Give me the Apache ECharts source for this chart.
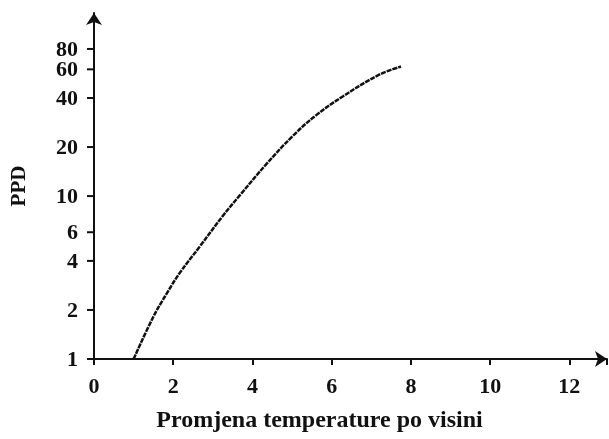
<!DOCTYPE html>
<html>
<head>
<meta charset="utf-8">
<script src="https://cdn.jsdelivr.net/npm/echarts@6/dist/echarts.min.js"></script>
<style>html,body{margin:0;padding:0;background:#fff;}#c{width:609px;height:439px;}</style>
</head>
<body>
<div id="c"></div>
<script>
var xValues = [1.0, 1.5, 1.83, 2.17, 2.67, 3.26, 3.68, 4.35, 5.02, 5.61, 6.28, 7.2, 7.75];
var ppdValues = [1.0, 1.82, 2.51, 3.39, 4.9, 7.6, 10.1, 15.7, 23.4, 31.4, 40.9, 55.6, 62.4];
var xTicks = [0, 2, 4, 6, 8, 10, 12];
var yTicks = [1, 2, 4, 6, 10, 20, 40, 60, 80];
var xTitle = 'Promjena temperature po visini';
var yTitle = 'PPD';

var chart = echarts.init(document.getElementById('c'));
var font = '"Liberation Serif", "Times New Roman", serif';
var pts = xValues.map(function (x, i) { return [x, ppdValues[i]]; });
chart.setOption({
  animation: false,
  grid: { left: 94, right: 2, top: 13, bottom: 80, containLabel: false },
  xAxis: {
    type: 'value', min: 0, max: 12.95, interval: 2,
    name: xTitle, nameLocation: 'middle', nameGap: 50,
    nameTextStyle: { fontFamily: font, fontWeight: 'bold', fontSize: 24, color: '#111', padding: [0, 62, 0, 0] },
    axisLine: { show: true, symbol: ['none', 'arrow'], symbolSize: [12, 12], lineStyle: { color: '#111', width: 2 } },
    axisTick: { show: true, inside: false, length: 6, lineStyle: { color: '#111', width: 2 } },
    axisLabel: { fontFamily: font, fontWeight: 'bold', fontSize: 22, color: '#111', margin: 17, customValues: xTicks, hideOverlap: false, showMinLabel: true, showMaxLabel: true },
    splitLine: { show: false }
  },
  yAxis: {
    type: 'log', logBase: 10, min: 1, max: 133,
    name: yTitle, nameLocation: 'middle', nameGap: 64, nameRotate: 90,
    nameTextStyle: { fontFamily: font, fontWeight: 'bold', fontSize: 21, color: '#111' },
    axisLine: { show: true, symbol: ['none', 'arrow'], symbolSize: [12, 12], lineStyle: { color: '#111', width: 2 } },
    axisTick: { show: false },
    axisLabel: { show: false },
    splitLine: { show: false }
  },
  series: [{
    type: 'line', data: pts, smooth: 0.4, showSymbol: false,
    lineStyle: { color: '#111', width: 2.5, type: [5, 1] }
  }, {
    type: 'custom', clip: false, silent: true,
    data: yTicks.map(function (v) { return [0, v]; }),
    renderItem: function (params, api) {
      var v = api.value(1);
      var p = api.coord([api.value(0), v]);
      return {
        type: 'group',
        children: [
          { type: 'line', shape: { x1: p[0] - 7, y1: p[1], x2: p[0], y2: p[1] }, style: { stroke: '#111', lineWidth: 2 } },
          { type: 'text', x: p[0] - 16, y: p[1] + 1, style: { text: String(v), fill: '#111', font: 'bold 22px ' + font, align: 'right', verticalAlign: 'middle' } }
        ]
      };
    }
  }]
});
</script>
</body>
</html>
